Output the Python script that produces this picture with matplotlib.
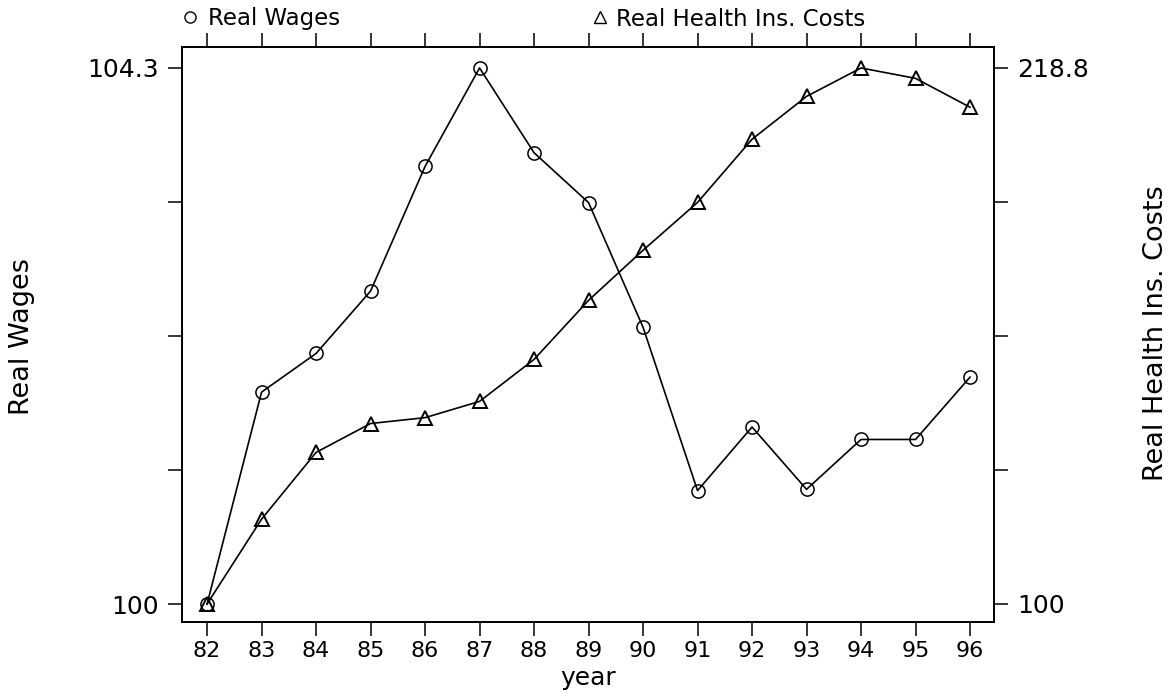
import matplotlib
matplotlib.use('Agg')
import matplotlib.pyplot as plt
from matplotlib.lines import Line2D

# ---- data ----
years = list(range(82, 97))
year_labels = [str(y) for y in years]
real_wages = [100.0, 101.70, 102.01, 102.51, 103.51, 104.30, 103.62, 103.22,
              102.22, 100.91, 101.42, 100.92, 101.32, 101.32, 101.82]
health_costs = [100.0, 118.8, 133.6, 140.0, 141.3, 144.9, 154.2, 167.3,
                178.4, 189.0, 203.0, 212.5, 218.8, 216.5, 210.1]
left_ticks = [100, 101.075, 102.15, 103.225, 104.3]
left_labels = ['100', '', '', '', '104.3']
right_ticks = [100, 129.7, 159.4, 189.1, 218.8]
right_labels = ['100', '', '', '', '218.8']

W, H = 1176, 692
fig = plt.figure(figsize=(W / 100, H / 100), dpi=100)
L, R, T, B = 182, 994, 47, 622
ax = fig.add_axes([L / W, 1 - B / H, (R - L) / W, (B - T) / H])
ax2 = ax.twinx()

ax.plot(years, real_wages, color='black', lw=1.2, marker='o', ms=9.5,
        mfc='none', mec='black', mew=1.1)
ax2.plot(years, health_costs, color='black', lw=1.2, marker='^', ms=10,
         mfc='none', mec='black', mew=1.4)

ax.set_xlim(81.54, 96.44)
ax.set_ylim(99.856, 104.468)
ax2.set_ylim(96.01, 223.45)

ax.set_xticks(years, year_labels)
ax.set_yticks(left_ticks, left_labels)
ax2.set_yticks(right_ticks, right_labels)

ax.tick_params(axis='x', direction='out', length=10, width=1.1, labelsize=16,
               pad=4, top=True, labeltop=False, color='black')
ax.tick_params(axis='y', direction='out', length=10, width=1.1, labelsize=18,
               pad=7, right=False)
ax2.tick_params(axis='y', direction='out', length=10, width=1.1, labelsize=18,
                pad=7)
for a in (ax, ax2):
    for s in a.spines.values():
        s.set_linewidth(1.3)

fig.text(22 / W, 1 - 337 / H, 'Real Wages', rotation=90, ha='center',
         va='center', fontsize=19.5)
fig.text(1156 / W, 1 - 333 / H, 'Real Health Ins. Costs', rotation=90,
         ha='center', va='center', fontsize=19.5)
fig.text(588 / W, 1 - 678 / H, 'year', ha='center', va='center', fontsize=18)

h1 = Line2D([], [], marker='o', ls='none', mfc='none', mec='black', ms=8, mew=1)
h2 = Line2D([], [], marker='^', ls='none', mfc='none', mec='black', ms=8, mew=1)
fig.legend(handles=[h1], labels=['Real Wages'], loc='center left',
           bbox_to_anchor=(180 / W, 1 - 19 / H), frameon=False, fontsize=16.5,
           handlelength=0.9, handletextpad=0.3, borderpad=0, borderaxespad=0)
fig.legend(handles=[h2], labels=['Real Health Ins. Costs'], loc='center left',
           bbox_to_anchor=(590 / W, 1 - 19 / H), frameon=False, fontsize=16.5,
           handlelength=0.9, handletextpad=0.25, borderpad=0, borderaxespad=0)

fig.savefig('out.png', dpi=100)
